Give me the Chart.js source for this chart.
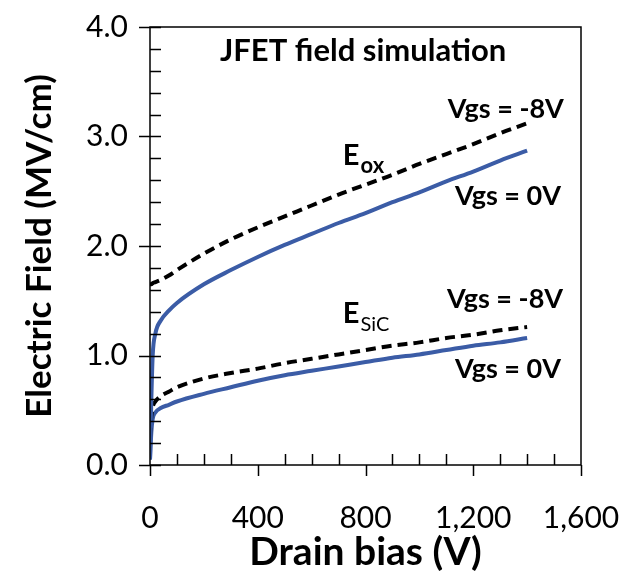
<!DOCTYPE html>
<html>
<head>
<meta charset="utf-8">
<script src="https://cdn.jsdelivr.net/npm/chart.js@4.4.1/dist/chart.umd.min.js"></script>
<style>
  html, body { margin: 0; padding: 0; background: #fff; }
  #wrap { width: 634px; height: 574px; }
</style>
</head>
<body>
<div id="wrap"><canvas id="fieldChart" width="634" height="574"></canvas></div>
<script>
// drain bias sample points (V)
const drainBias = [0, 5, 10, 20, 40, 70, 100, 200, 300, 400, 500, 600, 700, 800, 900, 1000, 1100, 1200, 1300, 1400];

// electric field (MV/cm)
const eoxVgs0    = [0.05, 0.60, 1.00, 1.20, 1.32, 1.41, 1.48, 1.65, 1.78, 1.90, 2.01, 2.11, 2.21, 2.30, 2.40, 2.49, 2.59, 2.68, 2.78, 2.87];
const eoxVgsM8   = [1.65, 1.65, 1.66, 1.67, 1.69, 1.73, 1.78, 1.93, 2.06, 2.17, 2.27, 2.37, 2.47, 2.56, 2.65, 2.75, 2.84, 2.93, 3.03, 3.12];
const esicVgs0   = [0.05, 0.30, 0.42, 0.48, 0.52, 0.55, 0.58, 0.65, 0.71, 0.77, 0.82, 0.86, 0.90, 0.94, 0.98, 1.01, 1.05, 1.09, 1.12, 1.16];
const esicVgsM8  = [0.25, 0.45, 0.53, 0.58, 0.63, 0.67, 0.71, 0.79, 0.84, 0.88, 0.93, 0.97, 1.01, 1.05, 1.09, 1.12, 1.16, 1.19, 1.23, 1.26];

const xTicks = [0, 400, 800, 1200, 1600];
const yTicks = [0, 1, 2, 3, 4];

const FONT = 'Lato, "Open Sans", "DejaVu Sans", sans-serif';
const BLUE = '#3b5ca6';

// text labels inside the plot, placed in data units
const plotNotes = [
    { text: 'JFET field simulation', x: 791, y: 3.78, size: 31 },
    { text: 'Vgs = -8V', x: 1321, y: 3.25, size: 27 },
    { text: 'Vgs = 0V', x: 1329, y: 2.45, size: 27 },
    { text: 'Vgs = -8V', x: 1318, y: 1.51, size: 27 },
    { text: 'Vgs = 0V', x: 1329, y: 0.87, size: 27 }
];
const fieldNames = [
    { main: 'E', sub: 'ox', x: 716, y: 2.74, subWeight: 'bold', subSize: 22 },
    { main: 'E', sub: 'SiC', x: 716, y: 1.30, subWeight: 'normal', subSize: 20 }
];

function toPoints(ys) {
    return drainBias.map((x, i) => ({ x, y: ys[i] }));
}

// box, major/minor ticks and in-plot text
const decorations = {
    id: 'decorations',
    afterDraw(chart) {
        const { ctx, chartArea: a, scales: { x, y } } = chart;
        ctx.save();
        ctx.strokeStyle = '#000';
        ctx.lineWidth = 1.5;
        ctx.strokeRect(a.left, a.top, a.right - a.left, a.bottom - a.top);

        ctx.beginPath();
        for (let v = 0; v <= 4.0001; v += 0.2) {
            const py = Math.round(y.getPixelForValue(v)) + 0.5;
            const major = Math.abs(v - Math.round(v)) < 0.01;
            ctx.moveTo(a.left - (major ? 11 : 0), py);
            ctx.lineTo(a.left + 11, py);
        }
        for (let v = 0; v <= 1600; v += 100) {
            const px = Math.round(x.getPixelForValue(v)) + 0.5;
            if (v % 400 === 0) {
                ctx.moveTo(px, a.bottom);
                ctx.lineTo(px, a.bottom + 11);
            } else {
                ctx.moveTo(px, a.bottom);
                ctx.lineTo(px, a.bottom - 11);
            }
        }
        ctx.stroke();

        ctx.fillStyle = '#000';
        ctx.textAlign = 'center';
        ctx.textBaseline = 'middle';
        plotNotes.forEach(n => {
            ctx.font = `bold ${n.size}px ${FONT}`;
            ctx.fillText(n.text, x.getPixelForValue(n.x), y.getPixelForValue(n.y));
        });

        ctx.textAlign = 'left';
        ctx.textBaseline = 'alphabetic';
        fieldNames.forEach(n => {
            const px = x.getPixelForValue(n.x);
            const py = y.getPixelForValue(n.y);
            ctx.font = `bold 29px ${FONT}`;
            ctx.fillText(n.main, px, py);
            const w = ctx.measureText(n.main).width;
            ctx.font = `${n.subWeight} ${n.subSize}px ${FONT}`;
            ctx.fillText(n.sub, px + w + 1, py + 8);
        });
        ctx.restore();
    }
};

const ctx = document.getElementById('fieldChart').getContext('2d');
new Chart(ctx, {
    type: 'line',
    data: {
        datasets: [
            { label: 'Eox Vgs = -8V', data: toPoints(eoxVgsM8), borderColor: '#000', borderDash: [10, 6] },
            { label: 'Eox Vgs = 0V', data: toPoints(eoxVgs0), borderColor: BLUE },
            { label: 'ESiC Vgs = -8V', data: toPoints(esicVgsM8), borderColor: '#000', borderDash: [10, 6] },
            { label: 'ESiC Vgs = 0V', data: toPoints(esicVgs0), borderColor: BLUE }
        ]
    },
    options: {
        responsive: false,
        animation: false,
        devicePixelRatio: 1,
        layout: { padding: { top: 27, right: 53, left: 0, bottom: 0 } },
        elements: {
            point: { radius: 0 },
            line: { borderWidth: 4, cubicInterpolationMode: 'monotone', fill: false }
        },
        plugins: {
            legend: { display: false },
            tooltip: { enabled: false }
        },
        scales: {
            x: {
                type: 'linear',
                min: 0,
                max: 1600,
                afterBuildTicks: s => { s.ticks = xTicks.map(v => ({ value: v })); },
                afterFit: s => { s.height = 109; },
                grid: { display: true, drawOnChartArea: false, drawTicks: true, tickLength: 35, color: 'rgba(0,0,0,0)' },
                border: { display: false },
                ticks: {
                    padding: 0,
                    color: '#000',
                    font: { family: FONT, size: 30 },
                    maxRotation: 0,
                    callback: v => v.toLocaleString('en-US')
                },
                title: {
                    display: true,
                    text: 'Drain bias (V)',
                    color: '#000',
                    font: { family: FONT, size: 39, weight: 'bold', lineHeight: 1 },
                    padding: { top: 0, bottom: 2 }
                }
            },
            y: {
                min: 0,
                max: 4,
                afterBuildTicks: s => { s.ticks = yTicks.map(v => ({ value: v })); },
                afterFit: s => { s.width = 150; },
                grid: { display: true, drawOnChartArea: false, drawTicks: true, tickLength: 22, color: 'rgba(0,0,0,0)' },
                border: { display: false },
                ticks: {
                    padding: 0,
                    color: '#000',
                    font: { family: FONT, size: 30 },
                    callback: v => v.toFixed(1)
                },
                title: {
                    display: true,
                    text: 'Electric Field (MV/cm)',
                    color: '#000',
                    font: { family: FONT, size: 35, weight: 'bold', lineHeight: 1 },
                    padding: { top: 22, bottom: 0 }
                }
            }
        }
    },
    plugins: [decorations]
});
</script>
</body>
</html>
